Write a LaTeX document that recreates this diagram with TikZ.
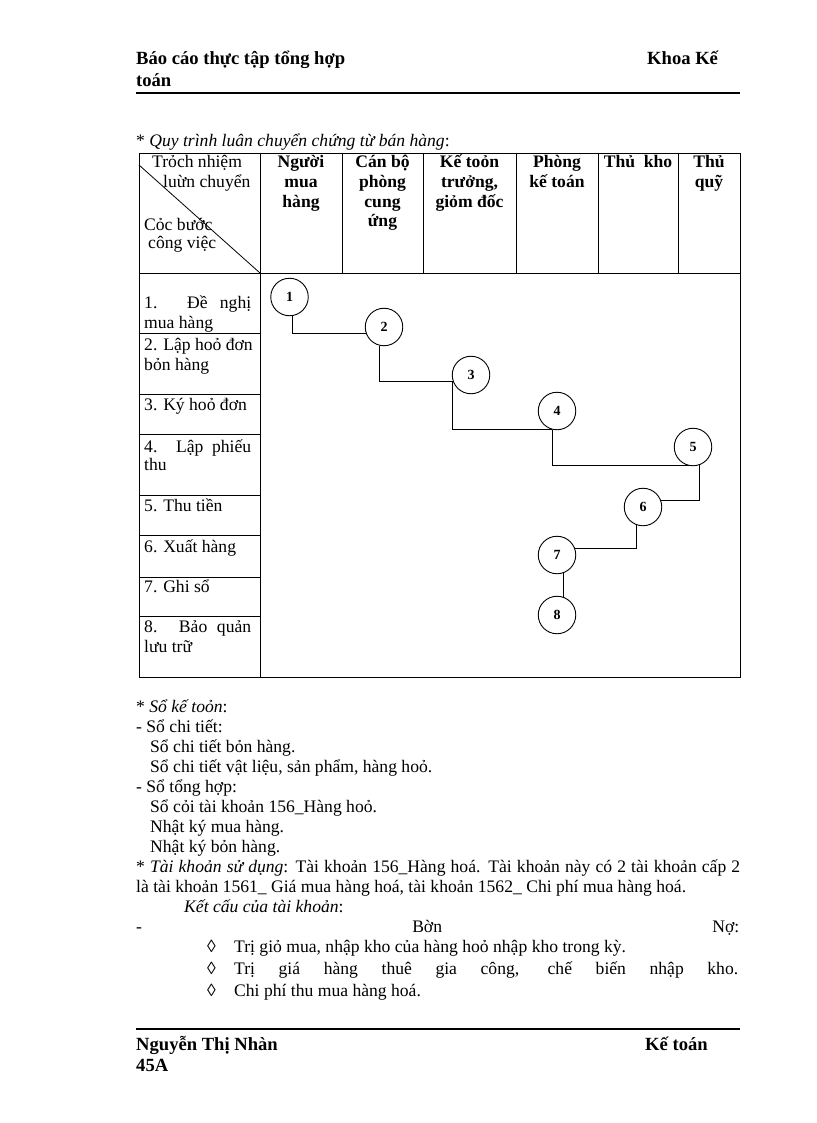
\documentclass[tikz,border=0pt]{standalone}
\usepackage{fontspec}
\setmainfont{Liberation Serif}
\newcommand\bodyf{\fontsize{17.6pt}{20pt}\selectfont}
\newcommand\headf{\fontsize{18.6pt}{21pt}\selectfont\bfseries}
\tikzset{
  txt/.style={anchor=base west,inner sep=0pt,font=\bodyf},
  ctxt/.style={anchor=base,inner sep=0pt,font=\bodyf\bfseries},
  hdr/.style={anchor=base west,inner sep=0pt,font=\headf},
  stepc/.style={circle,draw,line width=0.9pt,minimum size=37.5pt,inner sep=0pt,font=\fontsize{14pt}{16pt}\selectfont\bfseries},
  grid line/.style={line width=0.9pt},
  rule/.style={line width=2pt},
  link/.style={line width=0.9pt}
}
\begin{document}
\begin{tikzpicture}[x=1pt,y=-1pt]
\useasboundingbox (0,0) rectangle (816,1123);
% page header
\node[hdr] (h1) at (136,65) {Báo cáo thực tập tổng hợp};
\node[hdr] (h2) at (136,86.5) {toán};
\node[hdr] (h3) at (647,65) {Khoa Kế};
\draw[rule] (136,93) -- (740,93);
% title
\node[txt] (t0) at (136,147) {* \textit{Quy trình luân chuyển chứng từ bán hàng}:};
% table grid
\draw[grid line] (139,153) rectangle (740,677);
\draw[grid line] (139,273) -- (740,273);
\draw[grid line] (260,153) -- (260,677);
\foreach \x in {342,423,516,598,678} \draw[grid line] (\x,153) -- (\x,273);
\foreach \y in {333,394,434,495,535,577,616} \draw[grid line] (139,\y) -- (260,\y);
\draw[line width=0.8pt] (139,165) -- (260,273);
% header cells
\node[txt] (a1) at (152,168) {Trỏch nhiệm};
\node[txt] (a2) at (163,188) {luừn chuyển};
\node[txt] (a3) at (144,231) {Cỏc bước};
\node[txt] (a4) at (148,248) {công việc};
\node[ctxt] (b1) at (301,168) {Người};
\node[ctxt] (b2) at (301,188) {mua};
\node[ctxt] (b3) at (301,208) {hàng};
\node[ctxt] (c1h) at (382.5,168) {Cán bộ};
\node[ctxt] (c2h) at (382.5,188) {phòng};
\node[ctxt] (c3h) at (382.5,208) {cung};
\node[ctxt] (c4h) at (382.5,227) {ứng};
\node[ctxt] (d1) at (469.5,168) {Kế toỏn};
\node[ctxt] (d2) at (469.5,188) {trưởng,};
\node[ctxt] (d3) at (469.5,208) {giỏm đốc};
\node[ctxt] (e1) at (557,168) {Phòng};
\node[ctxt] (e2) at (557,188) {kế toán};
\node[ctxt] (f1) at (638,168) {Thủ\ \ kho};
\node[ctxt] (g1) at (709,168) {Thủ};
\node[ctxt] (g2) at (709,188) {quỹ};
% step rows
\node[txt] (r1a) at (144,308) {\makebox[107pt][s]{1. Đề nghị}};
\node[txt] (r1b) at (144,328) {mua hàng};
\node[txt] (r2a) at (144,350) {2. Lập hoỏ đơn};
\node[txt] (r2b) at (144,370) {bỏn hàng};
\node[txt] (r3) at (144,410) {3. Ký hoỏ đơn};
\node[txt] (r4a) at (144,452) {\makebox[107pt][s]{4. Lập phiếu}};
\node[txt] (r4b) at (144,470) {thu};
\node[txt] (r5) at (144,511) {5. Thu tiền};
\node[txt] (r6) at (144,552) {6. Xuất hàng};
\node[txt] (r7) at (144,592) {7. Ghi sổ};
\node[txt] (r8a) at (144,632) {\makebox[107pt][s]{8. Bảo quản}};
\node[txt] (r8b) at (144,652) {lưu trữ};
% circles
\node[stepc] (s1) at (289.5,297) {1};
\node[stepc] (s2) at (384,327) {2};
\node[stepc] (s3) at (471,375) {3};
\node[stepc] (s4) at (557,411) {4};
\node[stepc] (s5) at (693,447) {5};
\node[stepc] (s6) at (643,507) {6};
\node[stepc] (s7) at (557,555) {7};
\node[stepc] (s8) at (557,615) {8};
\draw[link] (s1.-80) |- (s2.-161);
\draw[link] (s2.-105) |- (s3.-161);
\draw[link] (s3.-161) |- (s4.-105);
\draw[link] (s4.-105) |- (s5.-100);
\draw[link] (s5.-71) |- (s6.19);
\draw[link] (s6.-109) |- (s7.19);
\draw[link] (s7.-71) -- (s8.71);
% lower text
\node[txt] (l1) at (136,712) {* \textit{Sổ kế toỏn}:};
\node[txt] (l2) at (136,732) {- Sổ chi tiết:};
\node[txt] (l3) at (150,752) {Sổ chi tiết bỏn hàng.};
\node[txt] (l4) at (150,772) {Sổ chi tiết vật liệu, sản phẩm, hàng hoỏ.};
\node[txt] (l5) at (136,792) {- Sổ tổng hợp:};
\node[txt] (l6) at (150,812) {Sổ cỏi tài khoản 156\_Hàng hoỏ.};
\node[txt] (l7) at (150,832) {Nhật ký mua hàng.};
\node[txt] (l8) at (150,852) {Nhật ký bỏn hàng.};
\node[txt] (l9) at (136,872) {\makebox[604pt][s]{* \textit{Tài khoản sử dụng}: Tài khoản 156\_Hàng hoá. Tài khoản này có 2 tài khoản cấp 2}};
\node[txt] (l10) at (136,892) {là tài khoản 1561\_ Giá mua hàng hoá, tài khoản 1562\_ Chi phí mua hàng hoá.};
\node[txt] (l11) at (184,912) {\textit{Kết cấu của tài khoản}:};
\node[txt] (l12) at (136,932) {\makebox[603pt][s]{- Bờn Nợ:}};
\node[txt] (m1) at (207,952) {◊};
\node[txt] (l13) at (234,952) {Trị giỏ mua, nhập kho của hàng hoỏ nhập kho trong kỳ.};
\node[txt] (m2) at (207,974) {◊};
\node[txt] (l14) at (234,974) {\makebox[504pt][s]{Trị giá hàng thuê gia công, chế biến nhập kho.}};
\node[txt] (m3) at (207,996) {◊};
\node[txt] (l15) at (234,996) {Chi phí thu mua hàng hoá.};
% footer
\draw[rule] (136,1029) -- (740,1029);
\node[hdr] (f1n) at (136,1050) {Nguyễn Thị Nhàn};
\node[hdr] (f2n) at (136,1071) {45A};
\node[hdr] (f3n) at (645,1050) {Kế toán};
\end{tikzpicture}
\end{document}
